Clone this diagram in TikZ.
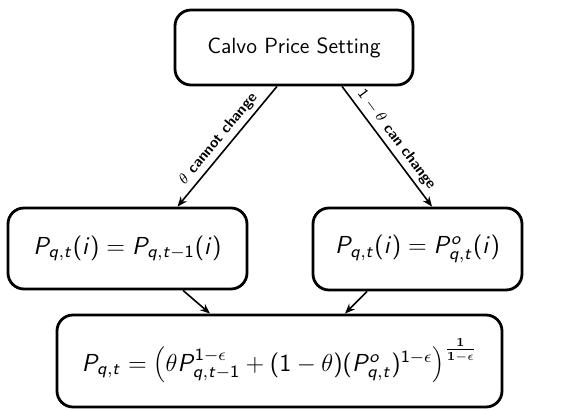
\RequirePackage{fix-cm}
\documentclass[tikz,border=0pt]{standalone}
\usetikzlibrary{arrows.meta,calc}
% Sans-serif math in the beamer manner: sans digits and Latin letters,
% Greek letters and symbols from Computer Modern.
\DeclareSymbolFont{operators}{OT1}{cmss}{m}{n}
\SetSymbolFont{operators}{bold}{OT1}{cmss}{bx}{n}
\DeclareSymbolFont{sfletters}{OT1}{cmss}{m}{sl}
\SetSymbolFont{sfletters}{bold}{OT1}{cmss}{bx}{sl}
\DeclareMathSymbol{P}{\mathalpha}{sfletters}{`P}
\DeclareMathSymbol{q}{\mathalpha}{sfletters}{`q}
\DeclareMathSymbol{t}{\mathalpha}{sfletters}{`t}
\DeclareMathSymbol{i}{\mathalpha}{sfletters}{`i}
\DeclareMathSymbol{o}{\mathalpha}{sfletters}{`o}
\tikzset{
  box/.style={draw, line width=1.4pt, rounded corners=8pt, inner sep=0pt,
    font=\sffamily\fontsize{11}{13}\selectfont},
  mathbox/.style={box, font=\sffamily\fontsize{12.3}{15}\selectfont},
  flow/.style={line width=0.8pt, -{Stealth[length=5pt,width=4pt]}},
  elabel/.style={sloped, above, midway, inner sep=2pt,
    font=\sffamily\bfseries\fontsize{7.5}{8.5}\selectfont}
}
\begin{document}
\begin{tikzpicture}[x=0.5pt, y=-0.5pt]
  \useasboundingbox (0,0) rectangle (580,410);

  \node[box, minimum width=119pt, minimum height=37.5pt] (top) at (294,47.5)
    {Calvo Price Setting};
  \node[mathbox, minimum width=119.5pt, minimum height=40.5pt] (left) at (127.5,248.5)
    {$P_{q,t}(i) = P_{q,t-1}(i)$};
  \node[mathbox, minimum width=104.5pt, minimum height=41pt] (right) at (417.5,249)
    {$P_{q,t}(i) = P^{o}_{q,t}(i)$};
  \node[mathbox, minimum width=222.5pt, minimum height=46pt] (bot) at (279.5,361)
    {$P_{q,t} = \left(\theta P_{q,t-1}^{1-\epsilon} + (1-\theta)(P^{o}_{q,t})^{1-\epsilon}\right)^{\frac{\mathbf{1}}{\mathbf{1}-\epsilon}}$};

  \draw[flow] ([xshift=-8.5pt]top.south) -- node[elabel] {$\theta$ cannot change} ([xshift=25pt]left.north);
  \draw[flow] ([xshift=24pt]top.south) -- node[elabel] {$1-\theta$ can change} ([xshift=7.25pt]right.north);
  \draw[flow] ([xshift=27.75pt]left.south) -- ([xshift=-34.75pt]bot.north);
  \draw[flow] ([xshift=-25.25pt]right.south) -- ([xshift=32.75pt]bot.north);
\end{tikzpicture}
\end{document}
